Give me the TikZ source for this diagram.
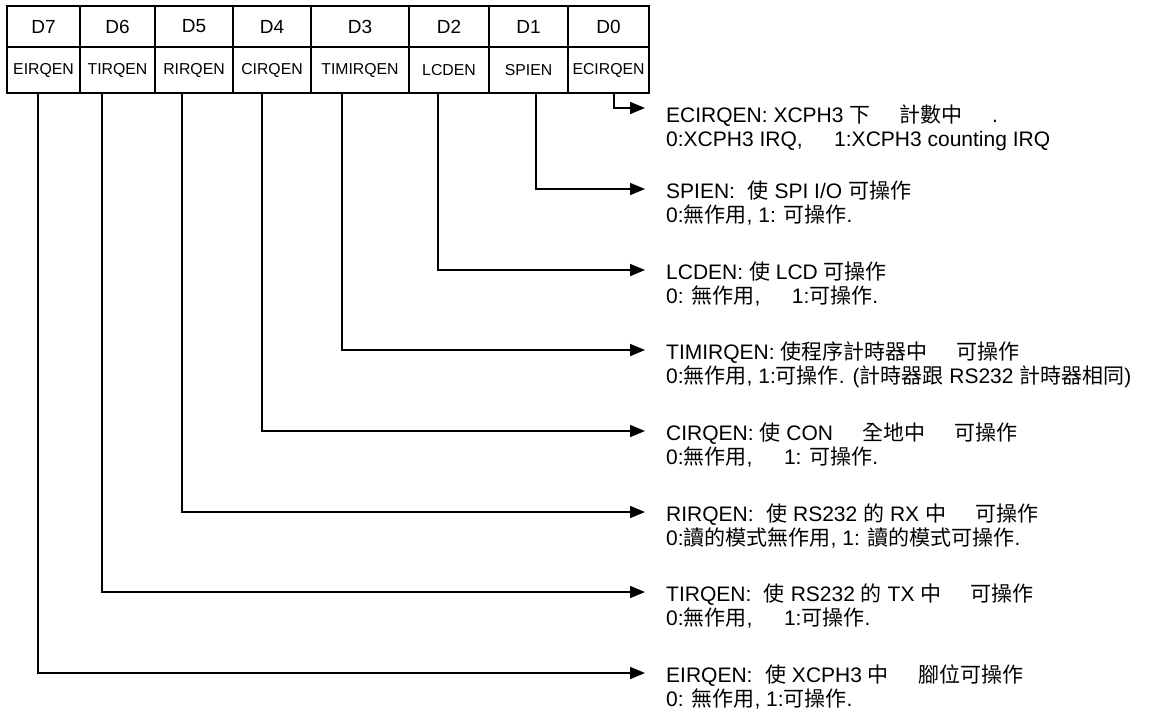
\documentclass[tikz,border=0pt]{standalone}
\usepackage{fontspec}
\setmainfont{Liberation Sans}
\newfontfamily\cjk{Noto Sans CJK TC}
\usetikzlibrary{arrows.meta,positioning}
\newcommand\zh[1]{{\cjk #1}}
\newcommand\nochar{\hspace{1.4em}}
\tikzset{
    bitcell/.style={draw, line width=1.8pt, inner sep=0pt, minimum height=41pt, font=\fontsize{19pt}{21pt}\selectfont},
    fieldcell/.style={draw, line width=1.8pt, inner sep=0pt, minimum height=46pt, font=\fontsize{15.8pt}{18pt}\selectfont},
    leader/.style={line width=1.6pt, -{Triangle[length=15pt,width=12pt]}},
    desc/.style={inner sep=0pt, font=\fontsize{21pt}{24pt}\selectfont}
}
\begin{document}
\begin{tikzpicture}[x=1pt,y=-1pt]
    \useasboundingbox (0,0) rectangle (1150,713);
    % register bits
    \node[bitcell, minimum width=73pt] (b7) at (43.5,26.5) {D7};
    \node[bitcell, minimum width=75pt] (b6) at (117.5,26.5) {D6};
    \node[bitcell, minimum width=78pt] (b5) at (194,26.5) {D5};
    \node[bitcell, minimum width=78pt] (b4) at (272,26.5) {D4};
    \node[bitcell, minimum width=98pt] (b3) at (360,26.5) {D3};
    \node[bitcell, minimum width=80pt] (b2) at (449,26.5) {D2};
    \node[bitcell, minimum width=79pt] (b1) at (528.5,26.5) {D1};
    \node[bitcell, minimum width=81pt] (b0) at (608.5,26.5) {D0};
    % field names
    \node[fieldcell, minimum width=73pt] (f7) at (43.5,70) {EIRQEN};
    \node[fieldcell, minimum width=75pt] (f6) at (117.5,70) {TIRQEN};
    \node[fieldcell, minimum width=78pt] (f5) at (194,70) {RIRQEN};
    \node[fieldcell, minimum width=78pt] (f4) at (272,70) {CIRQEN};
    \node[fieldcell, minimum width=98pt] (f3) at (360,70) {TIMIRQEN};
    \node[fieldcell, minimum width=80pt] (f2) at (449,70) {LCDEN};
    \node[fieldcell, minimum width=79pt] (f1) at (528.5,70) {SPIEN};
    \node[fieldcell, minimum width=81pt] (f0) at (608.5,70) {ECIRQEN};
    % taps under the fields
    \coordinate (t7) at (38,0 |- f7.south);
    \coordinate (t6) at (102,0 |- f6.south);
    \coordinate (t5) at (182,0 |- f5.south);
    \coordinate (t4) at (262,0 |- f4.south);
    \coordinate (t3) at (342,0 |- f3.south);
    \coordinate (t2) at (438,0 |- f2.south);
    \coordinate (t1) at (536,0 |- f1.south);
    \coordinate (t0) at (614,0 |- f0.south);
    % arrow ends
    \coordinate (a0) at (645,108);
    \coordinate (a1) at (645,189);
    \coordinate (a2) at (645,270);
    \coordinate (a3) at (645,350);
    \coordinate (a4) at (645,431);
    \coordinate (a5) at (645,512);
    \coordinate (a6) at (645,592);
    \coordinate (a7) at (645,673);
    % descriptions
    \node[desc, anchor=base west] (d0) at ([xshift=21pt,yshift=-14pt]a0) {ECIRQEN: XCPH3 \zh{下}\nochar\zh{計數中}\nochar.};
    \node[desc, anchor=base west] (e0) at ([yshift=-24pt]d0.base west) {0:XCPH3 IRQ,\hspace{1.5em}1:XCPH3 counting IRQ};
    \node[desc, anchor=base west] (d1) at ([xshift=21pt,yshift=-9pt]a1) {SPIEN:\hspace{0.6em}\zh{使} SPI I/O \zh{可操作}};
    \node[desc, anchor=base west] (e1) at ([yshift=-24pt]d1.base west) {0:\zh{無作用}, 1: \zh{可操作}.};
    \node[desc, anchor=base west] (d2) at ([xshift=21pt,yshift=-9pt]a2) {LCDEN: \zh{使} LCD \zh{可操作}};
    \node[desc, anchor=base west] (e2) at ([yshift=-24pt]d2.base west) {0: \zh{無作用},\hspace{1.5em}1:\zh{可操作}.};
    \node[desc, anchor=base west] (d3) at ([xshift=21pt,yshift=-9pt]a3) {TIMIRQEN: \zh{使程序計時器中}\nochar\zh{可操作}};
    \node[desc, anchor=base west] (e3) at ([yshift=-24pt]d3.base west) {0:\zh{無作用}, 1:\zh{可操作}. (\zh{計時器跟} RS232 \zh{計時器相同})};
    \node[desc, anchor=base west] (d4) at ([xshift=21pt,yshift=-9pt]a4) {CIRQEN: \zh{使} CON\nochar\zh{全地中}\nochar\zh{可操作}};
    \node[desc, anchor=base west] (e4) at ([yshift=-24pt]d4.base west) {0:\zh{無作用},\hspace{1.5em}1: \zh{可操作}.};
    \node[desc, anchor=base west] (d5) at ([xshift=21pt,yshift=-9pt]a5) {RIRQEN:\hspace{0.6em}\zh{使} RS232 \zh{的} RX \zh{中}\nochar\zh{可操作}};
    \node[desc, anchor=base west] (e5) at ([yshift=-24pt]d5.base west) {0:\zh{讀的模式無作用}, 1: \zh{讀的模式可操作}.};
    \node[desc, anchor=base west] (d6) at ([xshift=21pt,yshift=-9pt]a6) {TIRQEN:\hspace{0.6em}\zh{使} RS232 \zh{的} TX \zh{中}\nochar\zh{可操作}};
    \node[desc, anchor=base west] (e6) at ([yshift=-24pt]d6.base west) {0:\zh{無作用},\hspace{1.5em}1:\zh{可操作}.};
    \node[desc, anchor=base west] (d7) at ([xshift=21pt,yshift=-9pt]a7) {EIRQEN:\hspace{0.6em}\zh{使} XCPH3 \zh{中}\nochar\zh{腳位可操作}};
    \node[desc, anchor=base west] (e7) at ([yshift=-24pt]d7.base west) {0: \zh{無作用}, 1:\zh{可操作}.};
    % leaders
    \draw[leader] (t0) |- (a0);
    \draw[leader] (t1) |- (a1);
    \draw[leader] (t2) |- (a2);
    \draw[leader] (t3) |- (a3);
    \draw[leader] (t4) |- (a4);
    \draw[leader] (t5) |- (a5);
    \draw[leader] (t6) |- (a6);
    \draw[leader] (t7) |- (a7);
\end{tikzpicture}
\end{document}
